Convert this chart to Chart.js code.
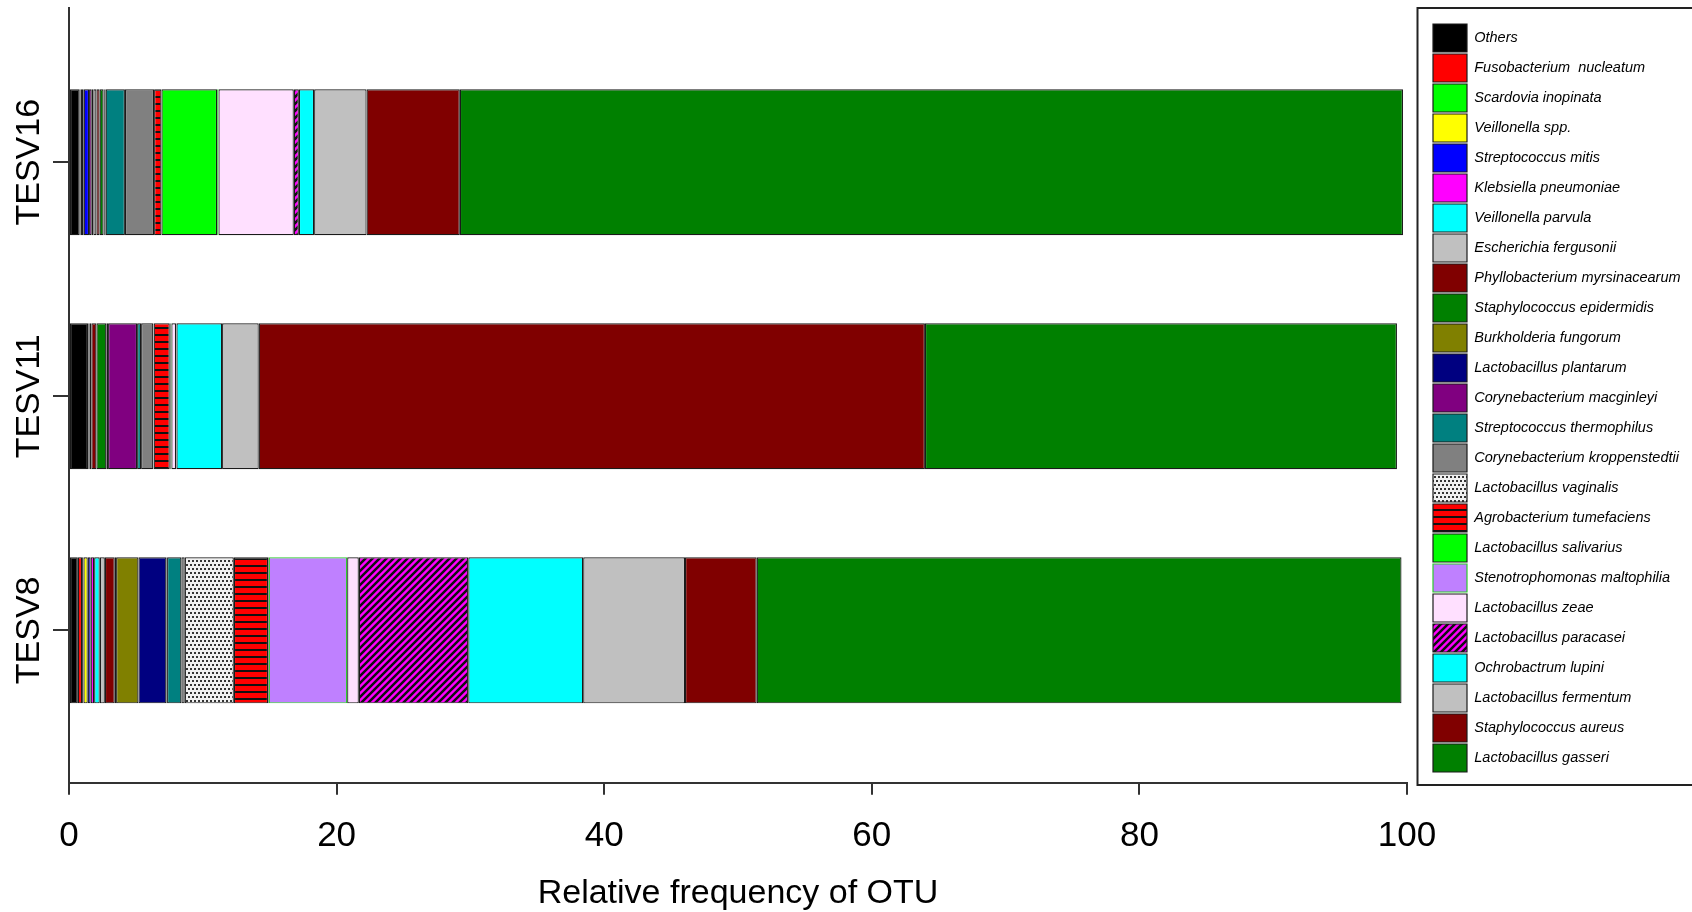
<!DOCTYPE html>
<html>
<head>
<meta charset="utf-8">
<title>Relative frequency of OTU</title>
<script src="https://cdn.jsdelivr.net/npm/chart.js@4.4.0/dist/chart.umd.min.js"></script>
<style>
  html, body { margin: 0; padding: 0; background: #ffffff; }
  #wrap { width: 1692px; height: 912px; }
</style>
</head>
<body>
<div id="wrap"><canvas id="otu-chart" width="1692" height="912"></canvas></div>
<script>
// samples, listed bottom to top like the original barplot
const samples = ["TESV8", "TESV11", "TESV16"];

// taxa in stacking order (left to right in each bar, top to bottom in the legend)
const taxa = [
  "Others",
  "Fusobacterium  nucleatum",
  "Scardovia inopinata",
  "Veillonella spp.",
  "Streptococcus mitis",
  "Klebsiella pneumoniae",
  "Veillonella parvula",
  "Escherichia fergusonii",
  "Phyllobacterium myrsinacearum",
  "Staphylococcus epidermidis",
  "Burkholderia fungorum",
  "Lactobacillus plantarum",
  "Corynebacterium macginleyi",
  "Streptococcus thermophilus",
  "Corynebacterium kroppenstedtii",
  "Lactobacillus vaginalis",
  "Agrobacterium tumefaciens",
  "Lactobacillus salivarius",
  "Stenotrophomonas maltophilia",
  "Lactobacillus zeae",
  "Lactobacillus paracasei",
  "Ochrobactrum lupini",
  "Lactobacillus fermentum",
  "Staphylococcus aureus",
  "Lactobacillus gasseri"
];

// relative frequency (%) per taxon, same order as taxa
const tesv8 = [0.66, 0.32, 0.10, 0.32, 0.22, 0.26, 0.42, 0.38, 0.74, 0.10, 1.67, 2.09, 0.05,
  1.07, 0.25, 3.67, 2.56, 0.05, 5.86, 0.87, 8.18, 8.59, 7.61, 5.36, 48.19];
const tesv11 = [1.42, 0, 0, 0, 0, 0.05, 0.05, 0.15, 0.38, 0.74, 0.05, 0.08, 2.17,
  0.30, 0.91, 0.03, 1.20, 0.07, 0.05, 0.35, 0.03, 3.41, 2.74, 49.79, 35.28];
const tesv16 = [0.80, 0.05, 0.12, 0.13, 0.40, 0.20, 0.12, 0.23, 0.24, 0.29, 0.04, 0.06, 0.06,
  1.44, 2.18, 0, 0.55, 4.16, 0.10, 5.63, 0.38, 1.14, 3.92, 6.97, 70.49];

const xTicks = [0, 20, 40, 60, 80, 100];

const colors = [
  "#000000", "#ff0000", "#00ff00", "#ffff00", "#0000ff", "#ff00ff", "#00ffff", "#c0c0c0",
  "#800000", "#008000", "#808000", "#000080", "#800080", "#008080", "#808080",
  "dots", "hstripes", "#00ff00", "#bf80ff", "#ffe0ff", "diag",
  "#00ffff", "#c0c0c0", "#800000", "#008000"
];

const FONT = "'Liberation Sans', Arial, sans-serif";
const LEGEND_SIZE = 14.5;
const SAMPLE_SIZE = 34;

function makePattern(kind) {
  const c = document.createElement("canvas");
  const g = c.getContext("2d");
  if (kind === "dots") {
    c.width = 4; c.height = 8;
    g.fillStyle = "#f0f0f0";
    g.fillRect(0, 0, 4, 8);
    g.fillStyle = "#333333";
    g.fillRect(0, 0, 2, 2);
    g.fillRect(2, 4, 2, 2);
  } else if (kind === "hstripes") {
    c.width = 8; c.height = 7;
    g.fillStyle = "#ff0000";
    g.fillRect(0, 0, 8, 7);
    g.fillStyle = "#111111";
    g.fillRect(0, 5, 8, 2);
  } else {
    c.width = 7; c.height = 7;
    g.fillStyle = "#ff00ff";
    g.fillRect(0, 0, 7, 7);
    g.strokeStyle = "#111111";
    g.lineWidth = 2.5;
    g.beginPath();
    g.moveTo(-1, 8); g.lineTo(8, -1);
    g.moveTo(-1, 1); g.lineTo(1, -1);
    g.moveTo(6, 8); g.lineTo(8, 6);
    g.stroke();
  }
  return g.createPattern(c, "repeat");
}

function fillFor(col) {
  return col.charAt(0) === "#" ? col : makePattern(col);
}

const sampleValues = [tesv8, tesv11, tesv16];

const datasets = taxa.map((name, i) => ({
  label: name,
  data: samples.map((s, j) => ({ x: sampleValues[j][i], y: j })),
  xAxisID: "x",
  yAxisID: "y",
  backgroundColor: fillFor(colors[i]),
  borderColor: name === "Stenotrophomonas maltophilia" ? "#2ecc2e" : "#1a1a1a",
  borderWidth: 1.2,
  borderSkipped: false,
  categoryPercentage: 1,
  barPercentage: 0.624
}));

// text measurements so the rotated sample labels and the legend land where they should
const measureCtx = document.createElement("canvas").getContext("2d");
measureCtx.font = SAMPLE_SIZE + "px " + FONT;
const widestLabel = Math.max(...samples.map((s) => measureCtx.measureText(s).width));
measureCtx.font = "italic " + LEGEND_SIZE + "px " + FONT;
const widestTaxon = Math.max(...taxa.map((t) => measureCtx.measureText(t).width));
// legend width as chart.js computes it for a single column
const legendWidth = 2 + 34 + LEGEND_SIZE / 2 + widestTaxon + 10;

const legendFrame = {
  id: "legendFrame",
  afterDraw(chart) {
    const lg = chart.legend;
    const ctx = chart.ctx;
    ctx.save();
    ctx.strokeStyle = "#222222";
    ctx.lineWidth = 2;
    ctx.strokeRect(lg.left - 13.5, 8, chart.width, 777);
    ctx.restore();
  }
};

new Chart(document.getElementById("otu-chart"), {
  type: "bar",
  data: { datasets: datasets },
  options: {
    indexAxis: "y",
    responsive: false,
    animation: false,
    devicePixelRatio: 1,
    layout: { padding: { top: 8, left: 0, bottom: 0, right: 1692 - 1431 - legendWidth } },
    scales: {
      x: {
        type: "linear",
        position: "bottom",
        stacked: true,
        min: 0,
        max: 100,
        afterBuildTicks: (s) => { s.ticks = xTicks.map((v) => ({ value: v })); },
        grid: { drawOnChartArea: false, drawTicks: true, tickLength: 12, color: "#333333", lineWidth: 2 },
        border: { display: true, color: "#333333", width: 2 },
        ticks: { font: { family: FONT, size: 35 }, color: "#000000", padding: 21, maxRotation: 0, autoSkip: false },
        title: {
          display: true,
          text: "Relative frequency of OTU",
          font: { family: FONT, size: 34 },
          color: "#000000",
          padding: { top: 0, bottom: -2 }
        },
        afterFit: (s) => { s.height = 129.3; }
      },
      y: {
        type: "linear",
        position: "left",
        stacked: true,
        offset: false,
        min: -0.651,
        max: 2.659,
        afterBuildTicks: (s) => { s.ticks = samples.map((n, i) => ({ value: i })); },
        grid: { offset: false, drawOnChartArea: false, drawTicks: true, tickLength: 16, color: "#333333", lineWidth: 2 },
        border: { display: true, color: "#333333", width: 2 },
        ticks: {
          font: { family: FONT, size: SAMPLE_SIZE },
          color: "#000000",
          minRotation: 90,
          maxRotation: 90,
          crossAlign: "center",
          padding: 23 - widestLabel / 2,
          autoSkip: false,
          callback: (v) => samples[v]
        },
        afterFit: (s) => { s.width = 69; }
      },
      gap: {
        type: "linear",
        position: "right",
        display: true,
        grid: { display: false },
        border: { display: false },
        ticks: { display: false },
        afterFit: (s) => { s.width = 24; }
      }
    },
    plugins: {
      legend: {
        position: "right",
        align: "start",
        title: { display: true, text: " ", font: { size: 10, lineHeight: 1 }, padding: { top: 4, bottom: 0 } },
        labels: {
          boxWidth: 34,
          boxHeight: 28,
          padding: 2,
          color: "#000000",
          font: { family: FONT, size: LEGEND_SIZE, style: "italic" }
        }
      },
      tooltip: { enabled: false }
    }
  },
  plugins: [legendFrame]
});
</script>
</body>
</html>
